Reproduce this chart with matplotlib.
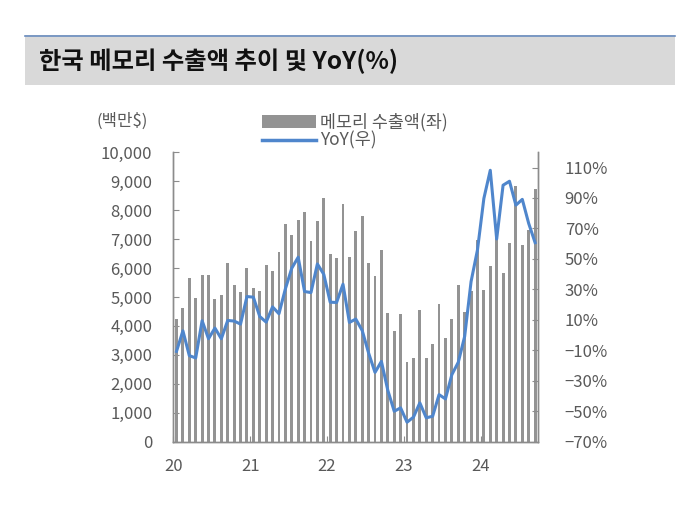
import matplotlib
matplotlib.use("Agg")
import matplotlib.pyplot as plt
from matplotlib.patches import Rectangle, Patch
from matplotlib.lines import Line2D
import numpy as np

plt.rcParams['font.family'] = ['Noto Sans CJK KR', 'DejaVu Sans']

# monthly memory exports, 2020-01 .. 2024-09 (million $)
exports = [4240, 4610, 5650, 4980, 5770, 5760, 4940, 5060, 6170, 5410, 5170, 5990,
           5300, 5210, 6110, 5900, 6550, 7530, 7130, 7660, 7950, 6950, 7640, 8410,
           6470, 6340, 8210, 6370, 7280, 7790, 6160, 5740, 6610, 4450, 3830, 4420,
           2750, 2890, 4550, 2900, 3390, 4750, 3570, 4230, 5410, 4480, 5220, 6970,
           5250, 6070, 7030, 5820, 6860, 8840, 6800, 7320, 8730]

# YoY growth (%)
yoy = [-10.7, 2.8, -13.5, -15.0, 9.4, -2.4, 4.6, -2.4, 9.6, 9.2, 7.2, 25.3,
       24.9, 12.2, 8.5, 18.5, 14.0, 30.3, 43.9, 51.1, 28.6, 27.9, 46.7, 39.9,
       21.6, 21.4, 33.4, 8.3, 10.5, 3.0, -11.8, -24.5, -17.3, -36.3, -50.0, -47.8,
       -57.2, -53.9, -44.5, -54.3, -53.3, -39.1, -41.9, -26.0, -17.9, -0.9, 35.1, 55.9,
       89.7, 108.2, 63.1, 98.4, 101.0, 85.3, 89.1, 73.3, 60.7]

year_labels = ['20', '21', '22', '23', '24']
left_ticks = list(range(0, 10001, 1000))
right_ticks = list(range(-70, 111, 20))

bar_color = '#939393'
line_color = '#4f86cc'
text_color = '#595959'
spine_color = '#8c8c8c'

fig = plt.figure(figsize=(7, 5.12), dpi=100)

# title banner
fig.patches.append(Rectangle((25 / 700, 1 - 85 / 512), 650 / 700, 50 / 512,
                             transform=fig.transFigure, facecolor='#d9d9d9',
                             edgecolor='none', zorder=0))
fig.lines.append(Line2D([25 / 700, 675 / 700], [1 - 35.5 / 512, 1 - 35.5 / 512],
                        transform=fig.transFigure, color='#6a8dbf', linewidth=1.2))
fig.text(39 / 700, 1 - 61 / 512, '한국 메모리 수출액 추이 및 YoY(%)',
         fontsize=17.5, fontweight='bold', color='#111111', va='center', ha='left')

ax = fig.add_axes([173.3 / 700, 1 - 441.7 / 512, 365 / 700, 289.4 / 512])
x = np.arange(len(exports))
ax.bar(x, exports, width=0.45, color=bar_color, zorder=2)
ax.set_xlim(-0.5, len(exports) - 0.5)
ax.set_ylim(0, 10000)
ax.set_yticks(left_ticks)
ax.set_yticklabels([f'{v:,}' for v in left_ticks])

ax2 = ax.twinx()
ax2.plot(x, yoy, color=line_color, linewidth=2.2, zorder=3)
ax2.set_ylim(-70, 120)
ax2.set_yticks(right_ticks)
ax2.set_yticklabels([f'{v}%'.replace('-', '\u2212') for v in right_ticks])

year_pos = [-0.5 + 12 * i for i in range(len(year_labels))]
ax.set_xticks(year_pos)
ax.set_xticklabels(year_labels)

for a in (ax, ax2):
    a.spines['top'].set_visible(False)
    for side in ('left', 'right', 'bottom'):
        a.spines[side].set_color(spine_color)
        a.spines[side].set_linewidth(1.0)

ax.tick_params(axis='y', direction='in', length=4, color=spine_color,
               labelsize=12, labelcolor=text_color, pad=15)
ax.tick_params(axis='x', direction='in', length=4, color=spine_color,
               labelsize=12, labelcolor=text_color, pad=12)
ax2.tick_params(axis='y', direction='in', length=4, color=spine_color,
                labelsize=12, labelcolor=text_color, pad=19)

fig.text(96 / 700, 1 - 121 / 512, '(백만$)', fontsize=12, color=text_color,
         va='center', ha='left')

handles = [Patch(facecolor=bar_color, edgecolor='none'),
           Line2D([0], [0], color=line_color, linewidth=2.5)]
fig.legend(handles, ['메모리 수출액(좌)', 'YoY(우)'], loc='upper left',
           bbox_to_anchor=(262 / 700, 1 - 113 / 512), frameon=False,
           fontsize=12.5, labelcolor=text_color, handlelength=3.1,
           handletextpad=0.25, labelspacing=0.0, borderpad=0, borderaxespad=0)

fig.savefig('out.png', dpi=100)
